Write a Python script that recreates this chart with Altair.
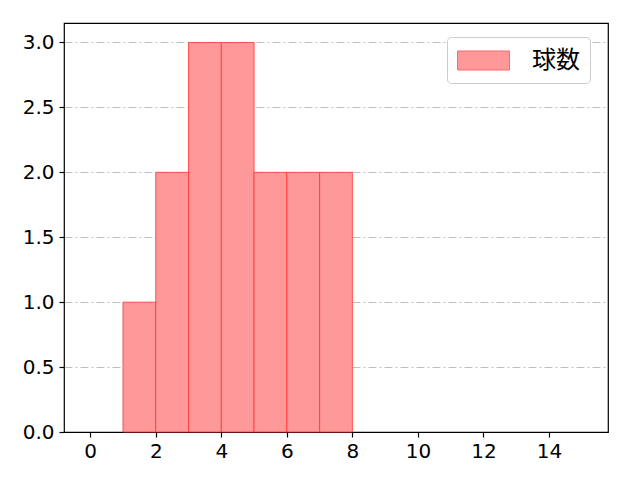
import altair as alt
import pandas as pd

bin_start = [1, 2, 3, 4, 5, 6, 7]
bin_end = [2, 3, 4, 5, 6, 7, 8]
counts = [1, 2, 3, 3, 2, 2, 2]
series = "球数"
x_ticks = [0, 2, 4, 6, 8, 10, 12, 14]
y_ticks = [0.0, 0.5, 1.0, 1.5, 2.0, 2.5, 3.0]

df = pd.DataFrame({"start": bin_start, "end": bin_end, "count": counts,
                   "series": [series] * len(counts)})

x_scale = alt.Scale(domain=[-0.8, 15.8], nice=False, zero=False)
y_scale = alt.Scale(domain=[0, 3.15], nice=False)
label_font = "DejaVu Sans"
label_size = 20

bars = alt.Chart(df).mark_bar(
    fill="#ff9999", fillOpacity=1, stroke="#ff3333", strokeOpacity=0.8, strokeWidth=1
).encode(
    x=alt.X("start:Q", scale=x_scale,
            axis=alt.Axis(values=x_ticks, title=None, grid=False, format="d",
                          labelFontSize=label_size, tickSize=5, labelPadding=4,
                          domain=False, tickColor="black", labelColor="black",
                          labelFont=label_font, tickWidth=1.2)),
    x2="end:Q",
    y=alt.Y("count:Q", scale=y_scale,
            axis=alt.Axis(values=y_ticks, title=None, format=".1f", grid=True,
                          gridDash=[8, 3, 2, 3], gridColor="#b0b0b0", gridWidth=0.8,
                          gridOpacity={"condition": {"test": "datum.value === 0", "value": 0},
                                       "value": 1},
                          labelFontSize=label_size, tickSize=5, labelPadding=5,
                          domain=False, tickColor="black", labelColor="black",
                          labelFont=label_font, tickWidth=1.2)),
    y2=alt.datum(0),
    color=alt.Color("series:N", scale=alt.Scale(range=["#ff9999"]),
                    legend=alt.Legend(
                        title=None, orient="none", legendX=383, legendY=14,
                        symbolType="M-1,-0.73H3V0.73H-1Z", symbolSize=676,
                        symbolStrokeColor="#ff6666",
                        symbolOpacity=1, symbolStrokeWidth=1,
                        labelFontSize=24, labelFont="Noto Sans CJK JP",
                        labelColor="black", labelOffset=48,
                        fillColor="white", strokeColor="#cccccc", cornerRadius=4,
                        padding=10)),
)

chart = bars.properties(
    width=544, height=409, background="white",
    autosize=alt.AutoSizeParams(type="none"),
    padding={"left": 56, "top": 15, "right": 20, "bottom": 40},
).configure_view(stroke="black", strokeWidth=1.2)

chart.save("out.html", embed_options={"renderer": "svg", "actions": False})
